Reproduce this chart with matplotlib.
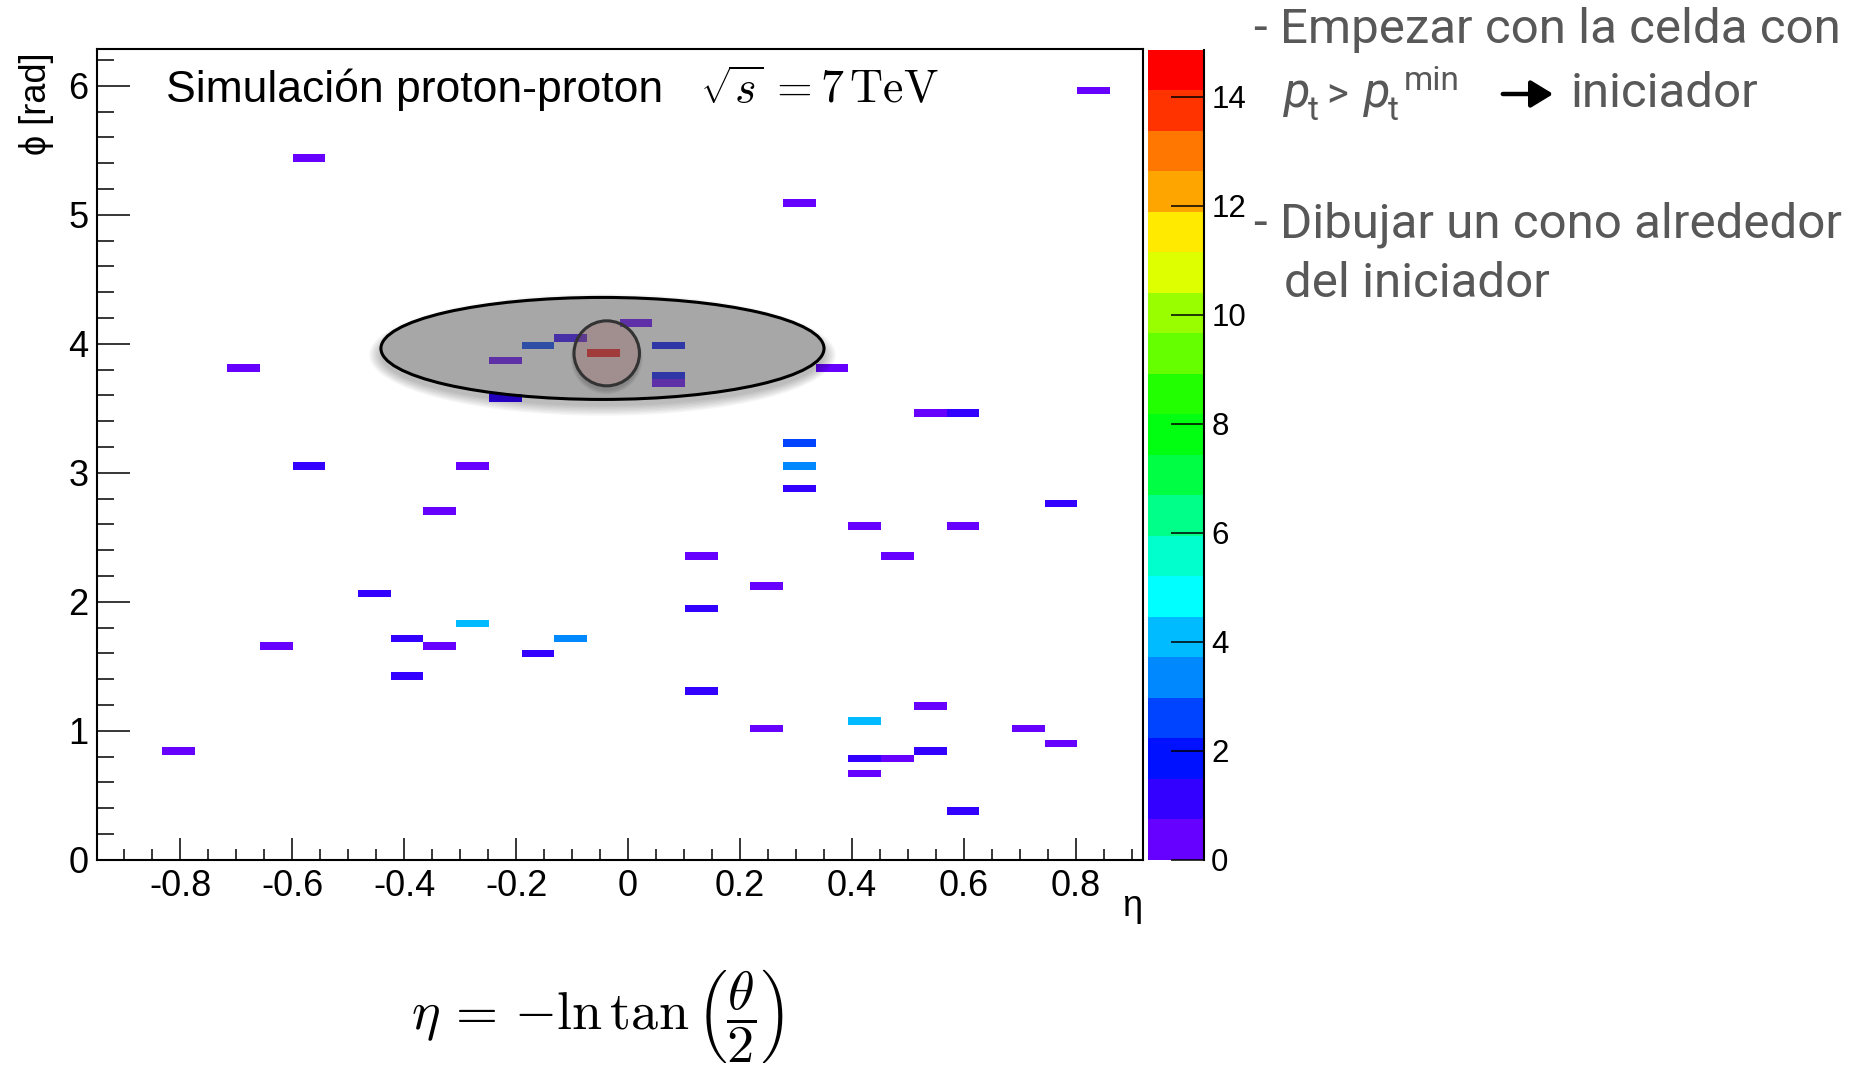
import numpy as np
import matplotlib
matplotlib.use("Agg")
import matplotlib.pyplot as plt
from matplotlib.colors import ListedColormap, BoundaryNorm
from matplotlib.patches import Ellipse, FancyArrowPatch
from matplotlib.path import Path
from matplotlib.ticker import MultipleLocator, FuncFormatter, FixedLocator

# ---------------- data: calorimeter cells (eta centre, phi centre, energy) ----------------
cell_eta = [0.832, -0.570, 0.306, 0.014, -0.103, -0.161, 0.073, -0.044, -0.220, -0.687,
            0.365, 0.073, 0.073, -0.220, 0.540, 0.599, 0.306, -0.570, -0.278, 0.306,
            0.306, 0.774, -0.336, 0.423, 0.599, 0.131, 0.482, 0.248, -0.453, 0.131,
            -0.278, -0.395, -0.103, -0.629, -0.336, -0.161, -0.395, 0.131, 0.540, 0.423,
            0.248, 0.716, 0.774, -0.804, 0.540, 0.423, 0.482, 0.423, 0.599]
cell_phi = [5.963, 5.440, 5.090, 4.160, 4.043, 3.985, 3.985, 3.927, 3.869, 3.811,
            3.811, 3.752, 3.694, 3.578, 3.462, 3.462, 3.229, 3.054, 3.054, 3.054,
            2.880, 2.763, 2.705, 2.589, 2.589, 2.356, 2.356, 2.124, 2.065, 1.949,
            1.833, 1.716, 1.716, 1.658, 1.658, 1.600, 1.425, 1.309, 1.193, 1.076,
            1.018, 1.018, 0.902, 0.844, 0.844, 0.785, 0.785, 0.669, 0.378]
cell_energy = [0.4, 0.4, 0.4, 0.4, 1.1, 2.6, 1.9, 14.86, 0.4, 0.4,
               0.4, 1.9, 0.4, 1.1, 0.4, 1.1, 2.6, 1.1, 0.4, 3.3,
               1.1, 1.1, 0.4, 0.4, 0.4, 0.4, 0.4, 0.4, 1.1, 1.1,
               4.1, 1.1, 3.3, 0.4, 0.4, 1.1, 1.1, 1.1, 0.4, 4.1,
               0.4, 0.4, 0.4, 0.4, 1.1, 1.1, 0.4, 0.4, 1.1]

xtick_values = [-0.8, -0.6, -0.4, -0.2, 0.0, 0.2, 0.4, 0.6, 0.8]
ytick_values = [0, 1, 2, 3, 4, 5, 6]
ztick_values = [0, 2, 4, 6, 8, 10, 12, 14]

palette = ['#6600ff', '#3300ff', '#0011ff', '#0044ff', '#0088ff', '#00bbff', '#00ffff',
           '#00ffcc', '#00ff88', '#00ff44', '#00ff11', '#22ff00', '#66ff00', '#99ff00',
           '#ddff00', '#ffea00', '#ffa500', '#ff7700', '#ff3300', '#ff0000']

# ---------------- figure ----------------
W, H = 1869, 1073
DPI = 100
plt.rcParams['font.family'] = ['Liberation Sans', 'DejaVu Sans']
fig = plt.figure(figsize=(W / DPI, H / DPI), dpi=DPI)


def fx(px):
    return px / W


def fy(py):
    return 1 - py / H


ax = fig.add_axes([fx(96.5), fy(859.7), fx(1142.7) - fx(96.5), fy(49.3) - fy(859.7)])

eta_edges = np.linspace(-0.95, 0.92, 33)
phi_edges = np.linspace(0, 2 * np.pi, 109)
hist, xe, ye = np.histogram2d(cell_eta, cell_phi, bins=[eta_edges, phi_edges], weights=cell_energy)
hist = np.ma.masked_where(hist <= 0, hist)

zmax = max(cell_energy)
cmap = ListedColormap(palette)
norm = BoundaryNorm(np.linspace(0, zmax, len(palette) + 1), cmap.N)
mesh = ax.pcolormesh(xe, ye, hist.T, cmap=cmap, norm=norm, antialiased=False,
                     linewidth=0, zorder=1)

ax.set_xlim(eta_edges[0], eta_edges[-1])
ax.set_ylim(0, 2 * np.pi)

# ticks
ax.xaxis.set_major_locator(FixedLocator(xtick_values))
ax.xaxis.set_minor_locator(MultipleLocator(0.05))
ax.yaxis.set_major_locator(FixedLocator(ytick_values))
ax.yaxis.set_minor_locator(MultipleLocator(0.2))


def fmt(v, _):
    v = round(v, 6)
    if abs(v) < 1e-9:
        return "0"
    return f"{v:g}"


ax.xaxis.set_major_formatter(FuncFormatter(fmt))
ax.yaxis.set_major_formatter(FuncFormatter(fmt))
ax.tick_params(axis='x', which='major', direction='in', length=15.8, width=1.1,
               labelsize=26, pad=7, top=False)
ax.tick_params(axis='x', which='minor', direction='in', length=7.9, width=1.1, top=False)
ax.tick_params(axis='y', which='major', direction='in', length=23.8, width=1.1,
               labelsize=26, pad=6, right=False)
ax.tick_params(axis='y', which='minor', direction='in', length=12.2, width=1.1, right=False)
for sp in ax.spines.values():
    sp.set_linewidth(1.5)


def outside_clip(cx, cy, w, h):
    """Path covering everything except the given ellipse (data coords)."""
    t = np.linspace(0, 2 * np.pi, 240)
    ex = cx + 0.5 * w * np.cos(t)
    ey = cy + 0.5 * h * np.sin(t)
    rect = [(-5, -5), (-5, 15), (5, 15), (5, -5), (-5, -5)]
    verts = rect + list(zip(ex, ey))
    codes = ([Path.MOVETO] + [Path.LINETO] * 3 + [Path.CLOSEPOLY]
             + [Path.MOVETO] + [Path.LINETO] * (len(ex) - 2) + [Path.CLOSEPOLY])
    return Path(verts, codes)


# cone overlays
cone_eta, cone_phi, cone_w, cone_h = -0.0456, 3.964, 0.792, 0.791
clip_big = outside_clip(cone_eta, cone_phi, cone_w, cone_h)
for i in range(8):
    sh = Ellipse((cone_eta, cone_phi - 0.05), cone_w + 0.006 * i, cone_h + 0.022 * i,
                 facecolor='black', edgecolor='none', alpha=0.035, zorder=2)
    ax.add_patch(sh)
    sh.set_clip_path(clip_big, ax.transData)
ax.add_patch(Ellipse((cone_eta, cone_phi), cone_w, cone_h, facecolor=(90 / 255, 90 / 255, 90 / 255),
                     alpha=0.53, edgecolor='none', zorder=3))
ax.add_patch(Ellipse((cone_eta, cone_phi), cone_w, cone_h, facecolor='none',
                     edgecolor='black', linewidth=2.2, zorder=4))

seed_eta, seed_phi, seed_w, seed_h = -0.038, 3.926, 0.117, 0.504
clip_small = outside_clip(seed_eta, seed_phi, seed_w, seed_h)
for i in range(5):
    sh = Ellipse((seed_eta, seed_phi - 0.035), seed_w + 0.003 * i, seed_h + 0.015 * i,
                 facecolor='black', edgecolor='none', alpha=0.04, zorder=4)
    ax.add_patch(sh)
    sh.set_clip_path(clip_small, ax.transData)
ax.add_patch(Ellipse((seed_eta, seed_phi), seed_w, seed_h, facecolor=(150 / 255, 90 / 255, 90 / 255),
                     alpha=0.3, edgecolor='none', zorder=5))
ax.add_patch(Ellipse((seed_eta, seed_phi), seed_w, seed_h, facecolor='none',
                     edgecolor='#333333', linewidth=2.2, zorder=6))

# colour bar
cax = fig.add_axes([fx(1147.7), fy(859.5), fx(1204.3) - fx(1147.7), fy(50) - fy(859.5)])
cb = fig.colorbar(mesh, cax=cax, ticks=ztick_values)
cb.outline.set_visible(False)
cax.plot([1, 1], [0, 1], transform=cax.transAxes, color='black', lw=1.5, clip_on=False)
cax.yaxis.set_major_formatter(FuncFormatter(fmt))
cax.tick_params(axis='y', which='major', direction='in', length=23.8, width=1.1,
                labelsize=22.5, pad=5, right=True, left=False)
cax.minorticks_off()

# axis titles
fig.text(fx(36), fy(52), "\u03d5 [rad]", rotation=90, ha='center', va='top', fontsize=26)
fig.text(fx(1142), fy(916), "\u03b7", ha='right', va='baseline', fontsize=26)

# in-plot title
fig.text(fx(166), fy(102), "Simulación proton-proton", ha='left', va='baseline', fontsize=32)
fig.text(fx(700), fy(103), r"$\sqrt{s}\, = 7\,\mathrm{TeV}$", ha='left', va='baseline',
         fontsize=33, math_fontfamily='cm')

# formula at the bottom
fig.text(fx(598), fy(1016), r"$\eta\,=\,{-}\ln\tan\left(\dfrac{\theta}{2}\right)$", ha='center',
         va='center', fontsize=39, math_fontfamily='cm')

# side notes
note_kw = dict(family=['Roboto', 'DejaVu Sans'], weight='normal', color='#585858', va='baseline')
fig.text(fx(1254), fy(43), "- Empezar con la celda con", fontsize=35.5, **note_kw)
fig.text(fx(1284), fy(107), "p", fontsize=35, style='italic', **note_kw)
fig.text(fx(1308), fy(120), "t", fontsize=24, **note_kw)
fig.text(fx(1326), fy(107), ">", fontsize=30, **note_kw)
fig.text(fx(1364), fy(107), "p", fontsize=35, style='italic', **note_kw)
fig.text(fx(1388), fy(120), "t", fontsize=24, **note_kw)
fig.text(fx(1404), fy(90), "min", fontsize=24, **note_kw)
fig.text(fx(1571), fy(107), "iniciador", fontsize=35.5, **note_kw)
fig.text(fx(1254), fy(237), "- Dibujar un cono alrededor", fontsize=35.5, **note_kw)
fig.text(fx(1284), fy(297), "del iniciador", fontsize=35.5, **note_kw)

arrow = FancyArrowPatch((fx(1500), fy(94)), (fx(1556), fy(94)), transform=fig.transFigure,
                        arrowstyle='-|>,head_length=9,head_width=5.5', mutation_scale=1.5,
                        color='black', lw=3.2)
fig.patches.append(arrow)

fig.savefig("out.png", dpi=DPI)
